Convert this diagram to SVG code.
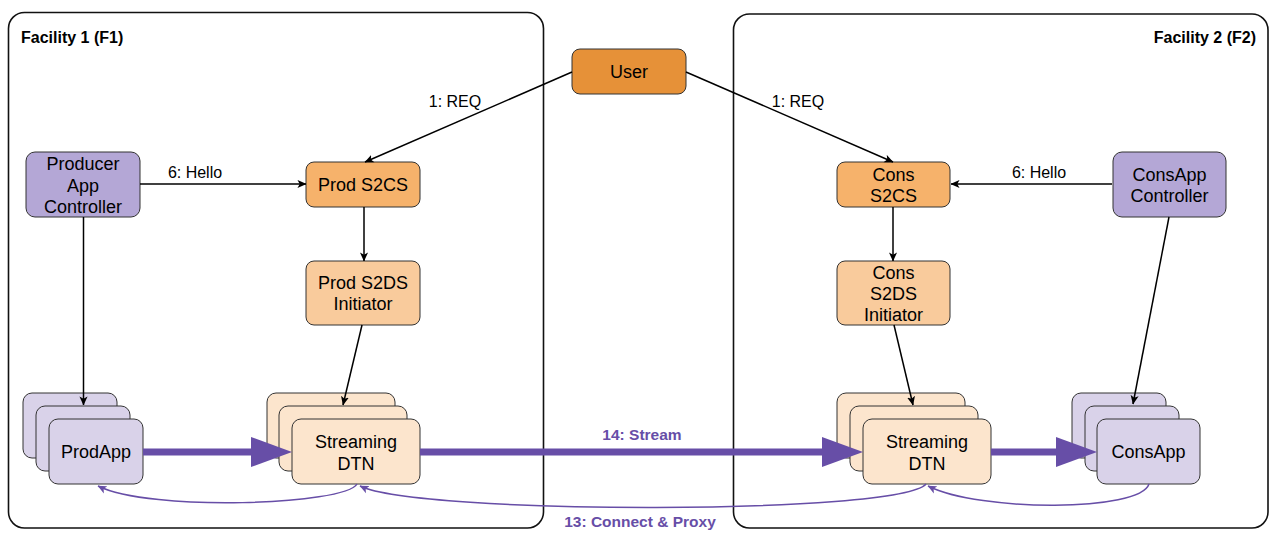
<svg xmlns="http://www.w3.org/2000/svg" width="1277" height="541" viewBox="0 0 1277 541">
<style>
text{font-family:"Liberation Sans",Arial,sans-serif;fill:#000}
.n{font-size:18px;text-anchor:middle}
.lbl{font-size:16px;text-anchor:middle}
.fac{font-size:16px;font-weight:bold}
.pl{font-size:15.5px;font-weight:bold;fill:#674EA7;text-anchor:middle}
.box{stroke:#333;stroke-width:1}
.facbox{fill:#fff;stroke:#111;stroke-width:1.6}
.user{fill:#E69138}
.s2cs{fill:#F6B26B}
.s2ds{fill:#F9CB9C}
.dtn{fill:#FCE5CD}
.ctl{fill:#B4A7D6}
.app{fill:#D9D2E9}
.blk{stroke:#000;stroke-width:1.5;fill:none;marker-end:url(#ab)}
.thick{stroke:#674EA7;stroke-width:7;fill:none;marker-end:url(#at)}
.thin{stroke:#674EA7;stroke-width:1.5;fill:none;marker-end:url(#ap)}
</style>
<defs>
<marker id="ab" viewBox="0 0 10 10" refX="9.5" refY="5" markerWidth="9" markerHeight="9" markerUnits="userSpaceOnUse" orient="auto"><path d="M0,0.5 L10,5 L0,9.5 L2.5,5 z" fill="#000"/></marker>
<marker id="ap" viewBox="0 0 10 10" refX="9.5" refY="5" markerWidth="9" markerHeight="9" markerUnits="userSpaceOnUse" orient="auto"><path d="M0,0.5 L10,5 L0,9.5 L2.5,5 z" fill="#674EA7"/></marker>
<marker id="at" viewBox="0 0 41 30" refX="1" refY="15" markerWidth="41" markerHeight="30" markerUnits="userSpaceOnUse" orient="auto"><path d="M0,0 L41,15 L0,30 z" fill="#674EA7"/></marker>
</defs>
<rect width="1277" height="541" fill="#fff"/>
<g id="facility1">
<rect class="facbox" x="8.5" y="12.5" width="535" height="515.5" rx="16"/>
<text class="fac" x="21" y="43">Facility 1 (F1)</text>
</g>
<g id="facility2">
<rect class="facbox" x="733.5" y="14" width="534.5" height="514" rx="16"/>
<text class="fac" x="1256" y="43" text-anchor="end">Facility 2 (F2)</text>
</g>
<g id="user">
<rect class="box user" x="572" y="49" width="114" height="45" rx="8"/>
<text class="n" x="629" y="78">User</text>
</g>
<g id="prod-s2cs">
<rect class="box s2cs" x="306" y="162" width="114" height="45" rx="8"/>
<text class="n" x="363" y="191">Prod S2CS</text>
</g>
<g id="prod-s2ds">
<rect class="box s2ds" x="306" y="261" width="114" height="64" rx="8"/>
<text class="n" x="363" y="288.5">Prod S2DS</text>
<text class="n" x="363" y="310">Initiator</text>
</g>
<g id="producer-controller">
<rect class="box ctl" x="26" y="152" width="114" height="65" rx="9"/>
<text class="n" x="83" y="169.5">Producer</text>
<text class="n" x="83" y="191.5">App</text>
<text class="n" x="83" y="213">Controller</text>
</g>
<g id="cons-s2cs">
<rect class="box s2cs" x="837" y="162" width="113" height="45" rx="8"/>
<text class="n" x="893.5" y="180.5">Cons</text>
<text class="n" x="893.5" y="201.5">S2CS</text>
</g>
<g id="cons-s2ds">
<rect class="box s2ds" x="837" y="261" width="113" height="64" rx="8"/>
<text class="n" x="893.5" y="278.5">Cons</text>
<text class="n" x="893.5" y="299.5">S2DS</text>
<text class="n" x="893.5" y="320.5">Initiator</text>
</g>
<g id="consapp-controller">
<rect class="box ctl" x="1113" y="152" width="113" height="65" rx="9"/>
<text class="n" x="1169.5" y="180.5">ConsApp</text>
<text class="n" x="1169.5" y="201.5">Controller</text>
</g>
<g id="prodapp">
<rect class="box app" x="23" y="393" width="94" height="65" rx="9"/>
<rect class="box app" x="36" y="406" width="94" height="65" rx="9"/>
<rect class="box app" x="49" y="419" width="94" height="65" rx="9"/>
<text class="n" x="96" y="458">ProdApp</text>
</g>
<g id="dtn-f1">
<rect class="box dtn" x="267" y="393" width="128" height="65" rx="9"/>
<rect class="box dtn" x="279" y="406" width="128" height="65" rx="9"/>
<rect class="box dtn" x="292" y="419" width="128" height="65" rx="9"/>
<text class="n" x="356" y="448">Streaming</text>
<text class="n" x="356" y="469.5">DTN</text>
</g>
<g id="dtn-f2">
<rect class="box dtn" x="837" y="393" width="128" height="65" rx="9"/>
<rect class="box dtn" x="850" y="406" width="128" height="65" rx="9"/>
<rect class="box dtn" x="863" y="419" width="128" height="65" rx="9"/>
<text class="n" x="927" y="448">Streaming</text>
<text class="n" x="927" y="469.5">DTN</text>
</g>
<g id="consapp">
<rect class="box app" x="1072" y="393" width="94" height="65" rx="9"/>
<rect class="box app" x="1085" y="406" width="94" height="65" rx="9"/>
<rect class="box app" x="1097" y="419" width="103" height="65" rx="9"/>
<text class="n" x="1148.5" y="458">ConsApp</text>
</g>
<g id="connectors">
<line class="blk" x1="572" y1="72" x2="365" y2="162"/>
<line class="blk" x1="686" y1="72" x2="893" y2="162"/>
<line class="blk" x1="140" y1="184" x2="306" y2="184"/>
<line class="blk" x1="1112" y1="184" x2="951" y2="184"/>
<line class="blk" x1="364" y1="207" x2="364" y2="261"/>
<line class="blk" x1="893" y1="207" x2="893" y2="261"/>
<line class="blk" x1="83.5" y1="217" x2="83.5" y2="405"/>
<line class="blk" x1="362" y1="325" x2="343" y2="405"/>
<line class="blk" x1="894" y1="325" x2="913" y2="405"/>
<line class="blk" x1="1169" y1="217" x2="1133" y2="404"/>
<line class="thick" x1="143" y1="452" x2="252" y2="452"/>
<line class="thick" x1="420" y1="452" x2="823" y2="452"/>
<line class="thick" x1="991" y1="452" x2="1057" y2="452"/>
<path class="thin" d="M357,484 C345,505 150,512 98,486"/>
<path class="thin" d="M926,484 C900,515 420,515 360,486"/>
<path class="thin" d="M1149,484 C1140,512 980,512 928,486"/>
<text class="lbl" x="455" y="107">1: REQ</text>
<text class="lbl" x="798" y="107">1: REQ</text>
<text class="lbl" x="195" y="178">6: Hello</text>
<text class="lbl" x="1039" y="178">6: Hello</text>
<text class="pl" x="642" y="439.5">14: Stream</text>
<text class="pl" x="640" y="526.5">13: Connect &amp; Proxy</text>
</g>
</svg>
